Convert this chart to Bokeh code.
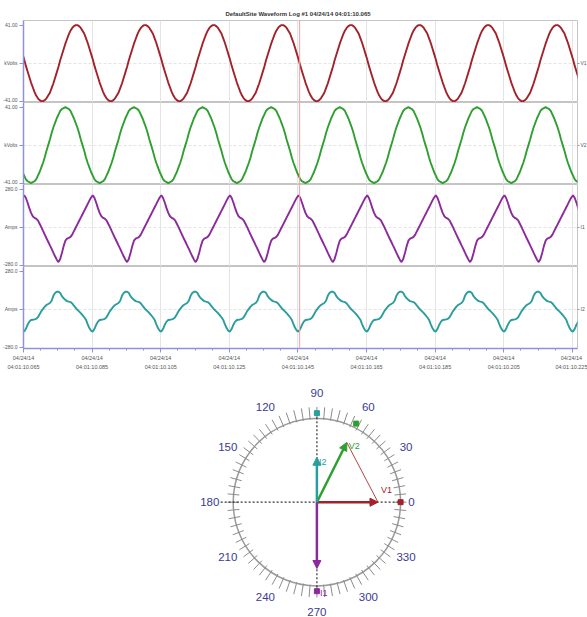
import numpy as np
from bokeh.plotting import figure
from bokeh.layouts import column
from bokeh.models import Range1d, FixedTicker, LinearAxis, Span, Arrow, NormalHead
from bokeh.embed import file_html
from bokeh.resources import INLINE
from bokeh.core.properties import value

# ---------------- data ----------------
TITLE = "DefaultSite  Waveform Log #1  04/24/14  04:01:10.065"

# one recorded cycle of each waveform, sampled every 0.5 ms starting at CYCLE_START_MS
CYCLE_START_MS = 65.2
SAMPLE_STEP_MS = 0.5
v1_cycle = [4, -3, -9, -15, -21, -26, -31, -35, -38, -40,
            -41, -41, -40, -38, -35, -32, -27, -22, -16, -10,
            -4, 3, 9, 15, 21, 26, 31, 35, 38, 40,
            41, 41, 40, 38, 35, 32, 27, 22, 16, 10]
v2_cycle = [-33, -37, -39, -40, -41, -40, -39, -37, -33, -29,
            -24, -19, -13, -6, 0, 6, 13, 19, 24, 29,
            33, 37, 39, 40, 41, 40, 39, 37, 33, 29,
            24, 19, 13, 6, 0, -6, -13, -19, -24, -29]
i1_cycle = [235, 215, 180, 140, 105, 80, 68, 62, 50, 25,
            0, -28, -55, -82, -108, -135, -160, -188, -215, -240,
            -258, -235, -190, -140, -100, -85, -80, -72, -55, -30,
            -5, 20, 45, 70, 95, 120, 145, 170, 195, 218]
i2_cycle = [-165, -145, -115, -92, -80, -78, -76, -72, -60, -38,
            -15, 2, 18, 30, 38, 45, 62, 98, 118, 128,
            128, 120, 95, 80, 68, 59, 55, 52, 42, 25,
            10, -5, -17, -30, -45, -60, -78, -110, -140, -160]
CYCLE_MS = 20.0

panel_names = ["V1", "V2", "I1", "I2"]
panel_units = ["kVolts", "kVolts", "Amps", "Amps"]
panel_limits = [41, 41, 280, 280]
panel_limit_labels = [("41.00", "-41.00"), ("41.00", "-41.00"),
                      ("280.0", "-280.0"), ("280.0", "-280.0")]

time_ticks_ms = [65, 85, 105, 125, 145, 165, 185, 205, 225]
time_tick_labels = ["04/24/14\n04:01:10.065", "04/24/14\n04:01:10.085",
                    "04/24/14\n04:01:10.105", "04/24/14\n04:01:10.125",
                    "04/24/14\n04:01:10.145", "04/24/14\n04:01:10.165",
                    "04/24/14\n04:01:10.185", "04/24/14\n04:01:10.205",
                    "04/24/14\n04:01:10.225"]
time_minor_ms = [t for t in range(65, 230, 5) if t not in time_ticks_ms]
time_start_ms, time_end_ms = 65.0, 226.5
cursor_ms = 145.5

phasor_names = ["V1", "V2", "I1", "I2"]
phasor_angles_deg = [0, 62, 270, 90]
phasor_magnitudes = [0.73, 0.76, 0.745, 0.505]   # fraction of ring radius
angle_label_values = [0, 30, 60, 90, 120, 150, 180, 210, 240, 270, 300, 330]

# ---------------- styles ----------------
colors = {"V1": "#a3222a", "V2": "#2f9f2f", "I1": "#8b2a9b", "I2": "#2a9d9d"}
FONT = "Liberation Sans"
FRAME_W, FRAME_H = 554, 82

xr = Range1d(time_start_ms, time_end_ms)
cycles = {"V1": v1_cycle, "V2": v2_cycle, "I1": i1_cycle, "I2": i2_cycle}

n_rep = 10
t_all = (CYCLE_START_MS - CYCLE_MS) + np.arange(len(v1_cycle) * n_rep) * SAMPLE_STEP_MS

figs = []
for k, name in enumerate(panel_names):
    lim = panel_limits[k]
    scale = lim / 41.0
    yr = Range1d(-42.5 * scale, 46 * scale)
    first = k == 0
    last = k == len(panel_names) - 1
    p = figure(frame_width=FRAME_W, frame_height=FRAME_H, x_range=xr, y_range=yr,
               toolbar_location=None, output_backend="svg",
               x_axis_location=None, y_axis_location="left",
               min_border_left=23, min_border_right=10,
               min_border_top=20 if first else 0,
               min_border_bottom=24 if last else 0,
               outline_line_color="#c4c4c4", background_fill_color="white")
    if first:
        p.title.text = TITLE
        p.title.align = "center"
        p.title.text_font_size = "6px"
        p.title.text_font = FONT
        p.title.text_font_style = "bold"
        p.title.text_color = "#333333"
        p.title.standoff = 7
    # left axis
    ya = p.yaxis[0]
    ya.ticker = FixedTicker(ticks=[-lim, 0, lim])
    ya.major_label_overrides = {lim: panel_limit_labels[k][0], 0: panel_units[k],
                                -lim: panel_limit_labels[k][1]}
    ya.major_label_text_font_size = "5px"
    ya.major_label_text_font = FONT
    ya.major_label_text_color = "#555555"
    ya.major_tick_out = 4
    ya.major_tick_in = 0
    ya.minor_tick_out = 0
    ya.minor_tick_in = 0
    ya.major_label_standoff = 2
    ya.axis_line_color = "#9090dc"
    ya.axis_line_width = 1.5
    ya.major_tick_line_color = "#9090dc"
    # right axis
    ra = LinearAxis(ticker=FixedTicker(ticks=[0]), major_label_overrides={0: name})
    ra.major_label_text_font_size = "5px"
    ra.major_label_text_font = FONT
    ra.major_label_text_color = "#555555"
    ra.major_tick_out = 2
    ra.major_tick_in = 0
    ra.minor_tick_out = 0
    ra.minor_tick_in = 0
    ra.major_label_standoff = 1
    ra.axis_line_color = None
    ra.major_tick_line_color = "#999999"
    p.add_layout(ra, "right")
    # grids
    p.xgrid.ticker = FixedTicker(ticks=time_ticks_ms)
    p.xgrid.grid_line_color = "#e4e4e4"
    p.ygrid.ticker = FixedTicker(ticks=[0])
    p.ygrid.grid_line_color = "#e4e4e4"
    p.ygrid.grid_line_dash = "3 2"
    # waveform
    y_all = np.tile(np.array(cycles[name], dtype=float), n_rep)
    p.line(t_all, y_all, line_color=colors[name], line_width=1.9)
    p.add_layout(Span(location=cursor_ms, dimension="height", line_color="#ff9a9a", line_width=1))
    if last:
        xa = LinearAxis(ticker=FixedTicker(ticks=time_ticks_ms, minor_ticks=time_minor_ms),
                        major_label_overrides=dict(zip(time_ticks_ms, time_tick_labels)))
        xa.major_label_text_font_size = "5.5px"
        xa.major_label_text_font = FONT
        xa.major_label_text_color = "#555555"
        xa.major_label_text_line_height = 1.5
        xa.major_tick_out = 4
        xa.major_tick_in = 0
        xa.minor_tick_out = 2
        xa.minor_tick_in = 0
        xa.major_label_standoff = 2
        xa.axis_line_color = "#9090dc"
        xa.axis_line_width = 1.5
        xa.major_tick_line_color = "#9090dc"
        xa.minor_tick_line_color = "#9090dc"
        p.add_layout(xa, "below")
    figs.append(p)

# ---------------- phasor diagram ----------------
RING_PX = 89.0
HP = 245
CX_PX, CY_PX = 312.0, 129.7
fp = figure(width=587, height=HP,
            x_range=Range1d(-CX_PX / RING_PX, (587 - CX_PX) / RING_PX),
            y_range=Range1d(-(HP - CY_PX) / RING_PX, CY_PX / RING_PX),
            toolbar_location=None, output_backend="svg",
            x_axis_location=None, y_axis_location=None,
            min_border=0, outline_line_color=None)
fp.grid.visible = False

# ring and 5-degree ticks
fp.circle(x=[0], y=[0], radius=1.0, fill_color=None, line_color="#9a9a9a", line_width=1.5)
tick_a = np.deg2rad(np.arange(0, 360, 5))
fp.segment(x0=0.93 * np.cos(tick_a), y0=0.93 * np.sin(tick_a),
           x1=1.07 * np.cos(tick_a), y1=1.07 * np.sin(tick_a),
           line_color="#8c8c8c", line_width=1)

# dashed reference axes
fp.segment(x0=[-1.15, 0], y0=[0, -1.0], x1=[1.0, 0], y1=[0, 1.0],
           line_color="#333333", line_width=1.2, line_dash="2 2")

# angle labels
la = np.deg2rad(np.array(angle_label_values, dtype=float))
lr = np.array([1.13 if a == 0 else (1.28 if a == 180 else 1.23) for a in angle_label_values])
fp.text(x=lr * np.cos(la), y=lr * np.sin(la), text=[str(a) for a in angle_label_values],
        text_align="center", text_baseline="middle", text_font_size="11.5px",
        text_font=value(FONT), text_color="#3a3a96")

pa = np.deg2rad(np.array(phasor_angles_deg, dtype=float))
pm = np.array(phasor_magnitudes)
tips_x = pm * np.cos(pa)
tips_y = pm * np.sin(pa)
pcols = [colors[n] for n in phasor_names]

# V1-V2 line
iv1, iv2 = phasor_names.index("V1"), phasor_names.index("V2")
fp.line([tips_x[iv2], tips_x[iv1]], [tips_y[iv2], tips_y[iv1]], line_color="#b24848", line_width=1)

# rim markers
fp.scatter(np.cos(pa), np.sin(pa), marker="square", size=5, color=pcols)

for n, x1, y1, c in zip(phasor_names, tips_x, tips_y, pcols):
    fp.add_layout(Arrow(end=NormalHead(size=8, fill_color=c, line_color=c, line_width=1),
                        x_start=0, y_start=0, x_end=x1, y_end=y1,
                        line_color=c, line_width=2.5))

lab_off = {"V1": (3, -12), "V2": (2, 4), "I1": (3, 24), "I2": (2, 5)}
fp.text(x=tips_x, y=tips_y, text=phasor_names,
        x_offset=[lab_off[n][0] for n in phasor_names],
        y_offset=[lab_off[n][1] for n in phasor_names],
        text_align="left", text_baseline="middle", text_font_size="9px",
        text_font=value(FONT), text_color=pcols)

layout = column(*figs, fp, spacing=0)
open("out.html", "w").write(file_html(layout, INLINE))
